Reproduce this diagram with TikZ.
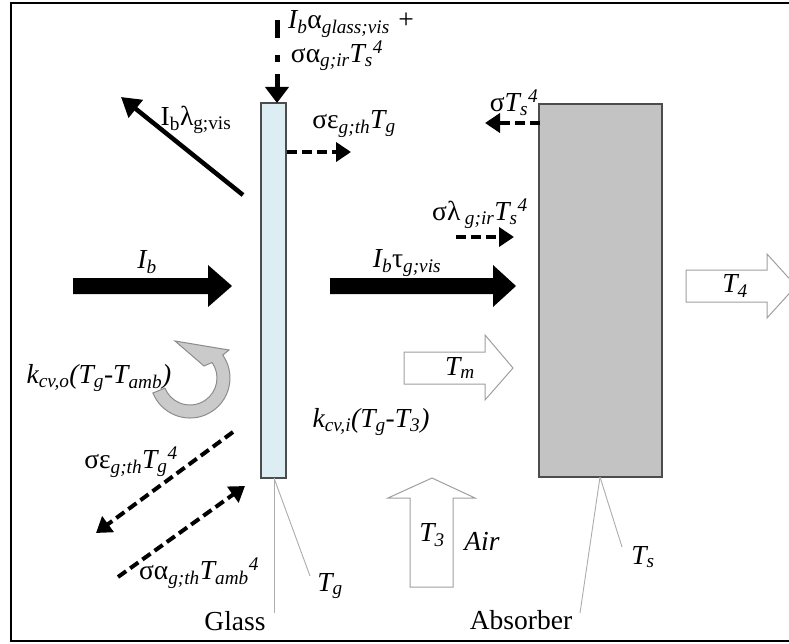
\documentclass[tikz,border=0pt]{standalone}
\usepackage{fontspec}
\setmainfont{Liberation Serif}
\usetikzlibrary{arrows.meta}
\newcommand{\mysub}[1]{\textsubscript{#1}}
\newcommand{\mysup}[1]{\textsuperscript{#1}}
\newcommand{\gk}[1]{\textup{#1}}
\definecolor{glassblue}{HTML}{DCEEF4}
\definecolor{absgray}{HTML}{C3C3C3}
\definecolor{ringfill}{HTML}{CACACA}
\definecolor{ringdraw}{HTML}{8C8C8C}
\begin{document}
\begin{tikzpicture}[x=1pt,y=-1pt,
  lbl/.style={inner sep=0pt, font=\fontsize{27.5}{31}\selectfont\itshape},
  rlbl/.style={inner sep=0pt, font=\fontsize{27.5}{31}\selectfont},
  dasharrow/.style={line width=4pt, dash pattern=on 10pt off 5pt, -{Triangle[length=15pt,width=19pt]}},
  solidarrow/.style={line width=4.5pt, -{Triangle[length=19pt,width=22pt]}},
  openarrow/.style={draw=gray!75, line width=1pt, fill=white},
  fatarrow/.style={fill=black},
  leader/.style={draw=gray!65, line width=0.9pt},
  slab/.style={line width=1.5pt, inner sep=0pt, outer sep=0pt, anchor=north west},
]
\useasboundingbox (0,0) rectangle (789,644);
% frame
\draw[line width=2pt] (11,3) rectangle (800,641);

% glass and absorber
\node[slab, draw=gray!60!black, fill=glassblue, minimum width=25pt, minimum height=375pt] (glass) at (261,103) {};
\node[slab, draw=black!70, fill=absgray, minimum width=123pt, minimum height=373pt] (absorber) at (539,104) {};

% top dash-dot arrow
\coordinate (gtop) at (277,103);
\coordinate (dd1) at (277,20);
\coordinate (dd2) at (277,38);
\coordinate (dd3) at (277,55);
\coordinate (dd4) at (277,62);
\coordinate (dd5) at (277,74);
\draw[line width=5pt] (dd1) -- (dd2);
\draw[line width=5pt] (dd3) -- (dd4);
\draw[line width=5pt, -{Triangle[length=16pt,width=23pt]}] (dd5) -- (gtop);
\node[lbl, anchor=west] (toplbl1) at (288,24) {I\mysub{b}\gk{α}\mysub{glass;vis} +};
\node[lbl] (toplbl2) at (337,56) {\gk{σα}\mysub{g;ir}T\mysub{s}\mysup{4}};

% reflected beam
\coordinate (refl0) at (243,195);
\coordinate (refl1) at (121,97);
\draw[solidarrow] (refl0) -- (refl1);
\node[rlbl] (refllbl) at (196,120) {I\mysub{b}λ\mysub{g;vis}};

% emission from glass to the right
\coordinate (ge0) at (287,152);
\coordinate (ge1) at (351,152);
\draw[dasharrow] (ge0) -- (ge1);
\node[lbl] (gelbl) at (354,124) {\gk{σε}\mysub{g;th}T\mysub{g}};

% emission of absorber
\coordinate (ae0) at (540,123);
\coordinate (ae1) at (485,123);
\draw[dasharrow] (ae0) -- (ae1);
\node[lbl] (aelbl) at (514,103) {\gk{σ}T\mysub{s}\mysup{4}};

% sigma lambda
\coordinate (sl0) at (456,237);
\coordinate (sl1) at (514,237);
\draw[dasharrow] (sl0) -- (sl1);
\node[lbl] (sllbl) at (480,214) {\gk{σλ}\,\mysub{g;ir}T\mysub{s}\mysup{4}};

% fat black arrows
\fill[fatarrow] (73,278) -- (208,278) -- (208,265) -- (232,286) -- (208,307) -- (208,294) -- (73,294) -- cycle;
\node[lbl] (iblbl) at (147,262) {I\mysub{b}};
\fill[fatarrow] (330,278) -- (493,278) -- (493,265) -- (516,286) -- (493,307) -- (493,294) -- (330,294) -- cycle;
\node[lbl] (itlbl) at (407,263) {I\mysub{b}\gk{τ}\mysub{g;vis}};

% convection ring arrow
\filldraw[fill=ringfill, draw=ringdraw, line width=1pt]
  (152.9,393) arc[start angle=158, end angle=-35, radius=40]
  -- (229,350) -- (175,341) -- (204,366) -- (212.1,362.5)
  arc[start angle=-35, end angle=158, radius=27] -- cycle;
\node[lbl] (kolbl) at (99,378) {k\mysub{cv,o}(T\mysub{g}-T\mysub{amb})};

% long-wave exchange on the outside
\coordinate (lw0) at (233,432);
\coordinate (lw1) at (96,533);
\draw[dasharrow] (lw0) -- (lw1);
\node[lbl] (lwlbl) at (131,462) {\gk{σε}\mysub{g;th}T\mysub{g}\mysup{4}};
\coordinate (sk0) at (118,577);
\coordinate (sk1) at (245,486);
\draw[dasharrow] (sk0) -- (sk1);
\node[lbl] (sklbl) at (199,573) {\gk{σα}\mysub{g;th}T\mysub{amb}\mysup{4}};

% inner convection label
\node[lbl] (kilbl) at (371,422) {k\mysub{cv,i}(T\mysub{g}-T\mysub{3})};

% open arrows
\filldraw[openarrow] (404,352) -- (485,352) -- (485,335) -- (513,368) -- (485,400) -- (485,384) -- (404,384) -- cycle;
\node[lbl] (tmlbl) at (460,368) {T\mysub{m}};
\filldraw[openarrow] (686,270) -- (767,270) -- (767,254) -- (796,286) -- (767,318) -- (767,302) -- (686,302) -- cycle;
\node[lbl] (t4lbl) at (735,286) {T\mysub{4}};
\filldraw[openarrow] (410,587) -- (410,498) -- (388,498) -- (432,478) -- (475,498) -- (453,498) -- (453,587) -- cycle;
\node[lbl] (t3lbl) at (432,535) {T\mysub{3}};
\node[lbl] (airlbl) at (482,541) {Air};

% leaders
\coordinate (gl0) at (274,478);
\coordinate (gl1) at (274,613);
\coordinate (gl2) at (310,576);
\draw[leader] (gl0) -- (gl1);
\draw[leader] (gl0) -- (gl2);
\node[rlbl] (glasslbl) at (235,621) {Glass};
\node[lbl] (tglbl) at (330,586) {T\mysub{g}};
\coordinate (al0) at (600,477);
\coordinate (al1) at (580,613);
\coordinate (al2) at (622,547);
\draw[leader] (al0) -- (al1);
\draw[leader] (al0) -- (al2);
\node[rlbl] (abslbl) at (521,620) {Absorber};
\node[lbl] (tslbl) at (643,557) {T\mysub{s}};
\end{tikzpicture}
\end{document}
